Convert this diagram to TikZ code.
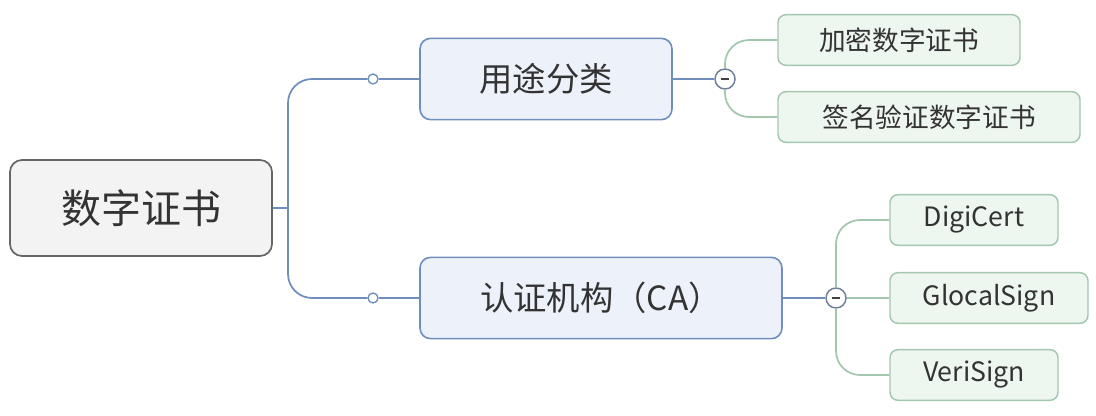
\documentclass[tikz,border=0pt]{standalone}
\usepackage{fontspec}
\setmainfont{Noto Sans CJK SC}
\usetikzlibrary{positioning}
\definecolor{rootfill}{HTML}{F3F3F3}
\definecolor{rootline}{HTML}{666666}
\definecolor{topicfill}{HTML}{EDF2FA}
\definecolor{topicline}{HTML}{6F8EBE}
\definecolor{leaffill}{HTML}{EEF6F0}
\definecolor{leafline}{HTML}{A3C6AE}
\definecolor{foldline}{HTML}{6E809A}

\begin{document}
\begin{tikzpicture}[x=0.75pt,y=-0.75pt,
  rootbox/.style={draw=rootline,fill=rootfill,line width=1.3pt,rounded corners=9pt,
    minimum width=196.5pt,minimum height=72pt,font=\fontsize{30}{36}\selectfont,text=black!80},
  topicbox/.style={draw=topicline,fill=topicfill,line width=1.2pt,rounded corners=8pt,
    minimum height=61pt,font=\fontsize{25}{30}\selectfont,text=black!80},
  leafbox/.style={draw=leafline,fill=leaffill,line width=1.1pt,rounded corners=6pt,
    minimum height=38pt,font=\fontsize{20}{24}\selectfont,text=black!80},
  hub/.style={circle,draw=topicline,fill=white,line width=1pt,inner sep=0pt,minimum size=7.5pt},
  fold/.style={circle,draw=foldline,fill=white,line width=1.1pt,inner sep=0pt,minimum size=15pt},
  mainlink/.style={draw=topicline,line width=1.3pt},
  sublink/.style={draw=leafline,line width=1.3pt}]
\useasboundingbox (0,0) rectangle (1096,416);
% Central topic
\node[rootbox] (root) at (141,208) {数字证书};
% Main branches
\node[topicbox,minimum width=189pt] (use) at (546,79) {用途分类};
\node[topicbox,minimum width=271.5pt] (ca) at (601,298) {认证机构（CA）};
\node[hub] (h1) at (373,79) {};
\node[hub] (h2) at (373,298) {};
\coordinate (jn) at (288,208);
\draw[mainlink] (root.east) -- (jn);
\draw[mainlink,rounded corners=18pt] (jn) |- (h1.west);
\draw[mainlink,rounded corners=18pt] (jn) |- (h2.west);
\draw[mainlink] (h1.east) -- (use.west);
\draw[mainlink] (h2.east) -- (ca.west);
% Fold markers
\node[fold] (f1) at (725,79) {\color{black!75}\rule{6.5pt}{1.8pt}};
\node[fold] (f2) at (836,298) {\color{black!75}\rule{6.5pt}{1.8pt}};
\draw[mainlink] (use.east) -- (f1.west);
\draw[mainlink] (ca.east) -- (f2.west);
% Leaves
\foreach \nm/\cx/\cy/\bw/\tx in {enc/899/40/181.5/加密数字证书,
    sig/929/117/226.5/签名验证数字证书,
    digi/974/220/126/DigiCert,
    glo/989/298/148.5/GlocalSign,
    veri/974/375/126/VeriSign} {
  \node[leafbox,minimum width=\bw pt] (\nm) at (\cx,\cy) {\tx};
}
\draw[sublink,rounded corners=18pt] (f1.north) |- (enc.west);
\draw[sublink,rounded corners=18pt] (f1.south) |- (sig.west);
\draw[sublink,rounded corners=18pt] (f2.north) |- (digi.west);
\draw[sublink] (f2.east) -- (glo.west);
\draw[sublink,rounded corners=18pt] (f2.south) |- (veri.west);
\end{tikzpicture}
\end{document}
